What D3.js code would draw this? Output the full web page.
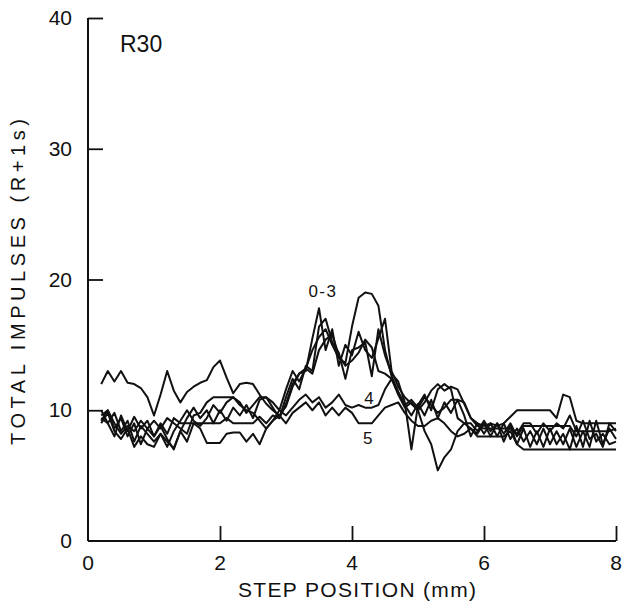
<!DOCTYPE html>
<html>
<head>
<meta charset="utf-8">
<script src="https://cdn.jsdelivr.net/npm/d3@7"></script>
<style>
  html, body { margin: 0; padding: 0; background: #fff; }
  svg { display: block; }
  text { font-family: "Liberation Sans", Arial, sans-serif; fill: #111; }
</style>
</head>
<body>
<svg id="chart" width="622" height="606"></svg>
<script>
// Step positions (mm)
const positions = [
  0.2, 0.3, 0.4, 0.5, 0.6, 0.7, 0.8, 0.9, 1.0, 1.1,
  1.2, 1.3, 1.4, 1.5, 1.6, 1.7, 1.8, 1.9, 2.0, 2.1,
  2.2, 2.3, 2.4, 2.5, 2.6, 2.7, 2.8, 2.9, 3.0, 3.1,
  3.2, 3.3, 3.4, 3.5, 3.6, 3.7, 3.8, 3.9, 4.0, 4.1,
  4.2, 4.3, 4.4, 4.5, 4.6, 4.7, 4.8, 4.9, 5.0, 5.1,
  5.2, 5.3, 5.4, 5.5, 5.6, 5.7, 5.8, 5.9, 6.0, 6.1,
  6.2, 6.3, 6.4, 6.5, 6.6, 6.7, 6.8, 6.9, 7.0, 7.1,
  7.2, 7.3, 7.4, 7.5, 7.6, 7.7, 7.8, 7.9, 8.0
];

// Total impulses (R + 1 s) for each run
const run0 = [
  12, 13, 12.2, 13, 12.1, 12, 11.7, 11, 9.6, 11.2,
  13, 11.5, 10.6, 11.4, 11.8, 12.1, 12.3, 13.3, 13.8, 12.5,
  11.3, 12, 12.1, 12, 11.2, 10.5, 10, 9.6, 10.3, 11.8,
  12.8, 13, 15.5, 17.8, 14.6, 16.2, 13.4, 15, 14.2, 16,
  14.6, 14, 15.5, 17, 13, 11.8, 11, 10.5, 10, 10.6,
  11.5, 12, 11.5, 11.8, 11.6, 10.5, 9.4, 9, 8.8, 9,
  8.8, 9, 9.5, 10, 10, 10, 10, 10, 10, 9.4,
  11.2, 11, 9.2, 9, 9, 9, 9, 9, 9
];
const run1 = [
  10, 9, 8, 9.6, 8.4, 9.5, 8.6, 9.2, 8, 9,
  8.2, 9.4, 9, 9, 9, 9, 9, 9, 9, 9.4,
  9, 9, 9, 9, 9.5, 9, 9.6, 9.4, 10.5, 12,
  12.8, 13.2, 14.6, 15.6, 16.2, 15, 14, 13.6, 16.4, 18.6,
  19, 18.9, 18, 14.6, 12.6, 11.4, 10.4, 9.6, 10.5, 9.6,
  10.8, 9.4, 10.6, 9.8, 10.8, 9.6, 8, 9, 8.2, 9,
  8, 9, 7.8, 8.6, 7.6, 8.4, 7.4, 8.6, 7.4, 8.4,
  7.4, 8.6, 7.2, 8.4, 7.2, 9.2, 7.4, 8.6, 7.8
];
const run2 = [
  9.6, 10, 8.6, 9.4, 8, 9, 7.4, 8.6, 8, 8.8,
  7.8, 7, 8.4, 9.4, 10.2, 9.4, 10, 9, 10, 9.2,
  10.2, 9.6, 10.4, 9.4, 10.8, 11, 10.2, 9.4, 11, 12.4,
  11.6, 13.4, 13, 16.4, 17, 15.2, 14.4, 12.4, 14.6, 14.8,
  15.2, 12.6, 16.2, 14.2, 12.8, 12.2, 10.6, 7, 10.4, 11.2,
  10, 11.6, 12, 11.6, 9.4, 9, 8.6, 8.2, 9, 8,
  9, 8.2, 9, 8, 8.8, 8.8, 8.8, 8.8, 8.8, 8.8,
  8.8, 8.8, 8, 9.2, 7.8, 8.2, 7.2, 9, 8.4
];
const run3 = [
  9.4, 9, 9.8, 8.4, 9.2, 7.6, 8.8, 8.2, 7.6, 8.2,
  7.2, 8.4, 9.2, 10, 9.2, 8.8, 9.4, 10.4, 9.8, 10.6,
  11, 10.4, 10, 9.8, 9.2, 8.6, 9.2, 10, 11.6, 13,
  12.2, 13.2, 12.8, 14.6, 15.4, 15.8, 14.2, 13.4, 13.8, 14.4,
  15.4, 14.8, 13, 12.8, 12.4, 11.2, 10.2, 10.6, 10, 8.4,
  7.4, 5.4, 6.4, 7, 8.4, 9, 9, 8.4, 9.2, 8.4,
  9, 7.6, 8.8, 7.4, 8.6, 7.2, 8.4, 7.2, 8.6, 7.4,
  8.2, 7, 8.8, 7.2, 9.2, 7.6, 8.2, 7.4, 7.6
];
const run4 = [
  9.2, 10, 9, 8.2, 8.8, 8.4, 9.2, 8.6, 9.2, 8.6,
  9.4, 9, 8.6, 8.2, 9.6, 9.8, 10.6, 11, 11, 11,
  11, 10.6, 9.8, 10.4, 11, 11, 10.6, 10, 9.6, 10.2,
  10.8, 11.2, 10.6, 11, 10.2, 10.6, 11.2, 10.4, 10.2, 10.4,
  10.2, 10.2, 10.4, 11.6, 12.4, 11.4, 10.4, 10.8, 10.2, 11,
  10.4, 9.8, 10.2, 10.8, 10.8, 10.6, 9.4, 8.8, 8.6, 8.6,
  8.6, 8.6, 8.6, 8.2, 9, 9, 8.2, 9, 8.4, 9,
  8.6, 9.6, 8.4, 8.4, 8.4, 8.4, 8.4, 8.4, 8.6
];
const run5 = [
  9, 9.8, 8.4, 7.8, 8.6, 7.2, 8, 7.4, 7.2, 8.2,
  7.6, 7.1, 8.4, 7.6, 9, 8.6, 7.5, 7.5, 7.5, 8.2,
  8.3, 8.3, 7.6, 8.2, 7.4, 8.6, 9.2, 9.6, 9, 9.8,
  10.2, 10.6, 10, 10.6, 9.6, 10.2, 9.6, 10.2, 9.8, 9,
  9, 9, 9.6, 10.2, 10.4, 10.6, 9.8, 9.2, 8.8, 8.8,
  9.2, 9.4, 9, 8.4, 8, 8.2, 8.6, 8, 8, 8,
  8, 8, 8.4, 7.4, 7, 7, 7, 7, 7, 7,
  7, 7, 7, 7, 7, 7, 7, 7, 7
];
const runs = [run0, run1, run2, run3, run4, run5];

// Curve labels: text, step position, impulses
const curveLabels = [
  { text: "0-3", x: 3.56, y: 19.1 },
  { text: "4",   x: 4.27, y: 10.9 },
  { text: "5",   x: 4.25, y: 7.9 }
];

const xTicks = [0, 2, 4, 6, 8];
const yTicks = [0, 10, 20, 30, 40];
const panelTitle = "R30";
const xTitle = "STEP POSITION (mm)";
const yTitle = "TOTAL IMPULSES (R+1s)";

const svg = d3.select("#chart");
const x = d3.scaleLinear().domain([0, 8]).range([88, 616]);
const y = d3.scaleLinear().domain([0, 40]).range([541, 18]);

// Axes: ticks point into the plot
const xAxis = d3.axisTop(x).tickValues(xTicks.filter(d => d > 0)).tickSize(15).tickFormat("");
const yAxis = d3.axisRight(y).tickValues(yTicks.filter(d => d > 0)).tickSize(15).tickFormat("");

const gx = svg.append("g").attr("transform", `translate(0,${y(0)})`).call(xAxis);
const gy = svg.append("g").attr("transform", `translate(${x(0)},0)`).call(yAxis);
[gx, gy].forEach(g => {
  g.select(".domain").remove();
  g.selectAll(".tick line").attr("stroke", "#111").attr("stroke-width", 1.8);
});

// Axis lines
svg.append("line")
  .attr("x1", x(0)).attr("x2", x(8)).attr("y1", y(0)).attr("y2", y(0))
  .attr("stroke", "#111").attr("stroke-width", 2);
svg.append("line")
  .attr("x1", x(0)).attr("x2", x(0)).attr("y1", y(0)).attr("y2", y(40))
  .attr("stroke", "#111").attr("stroke-width", 2);

// Tick labels
svg.append("g").selectAll("text").data(xTicks).join("text")
  .attr("x", d => x(d)).attr("y", y(0) + 29)
  .attr("text-anchor", "middle")
  .attr("font-size", 21)
  .text(d => d);
svg.append("g").selectAll("text").data(yTicks).join("text")
  .attr("x", x(0) - 16).attr("y", d => y(d) + 7)
  .attr("text-anchor", "end")
  .attr("font-size", 21)
  .text(d => d);

// Axis titles
svg.append("text")
  .attr("x", 357).attr("y", 597)
  .attr("text-anchor", "middle")
  .attr("font-size", 21)
  .attr("textLength", 238).attr("lengthAdjust", "spacing")
  .text(xTitle);
svg.append("text")
  .attr("transform", "translate(25,282) rotate(-90)")
  .attr("text-anchor", "middle")
  .attr("font-size", 20)
  .attr("textLength", 326).attr("lengthAdjust", "spacing")
  .text(yTitle);

// Panel title
svg.append("text")
  .attr("x", 120).attr("y", 52)
  .attr("font-size", 23)
  .text(panelTitle);

// Runs
const line = d3.line()
  .x((d, i) => x(positions[i]))
  .y(d => y(d));

svg.append("g").selectAll("path").data(runs).join("path")
  .attr("d", line)
  .attr("fill", "none")
  .attr("stroke", "#111")
  .attr("stroke-width", 2)
  .attr("stroke-linejoin", "round");

// Curve labels
svg.append("g").selectAll("text").data(curveLabels).join("text")
  .attr("x", d => x(d.x)).attr("y", d => y(d.y) + 6)
  .attr("text-anchor", "middle")
  .attr("font-size", 17)
  .attr("letter-spacing", 1.5)
  .text(d => d.text);
</script>
</body>
</html>
